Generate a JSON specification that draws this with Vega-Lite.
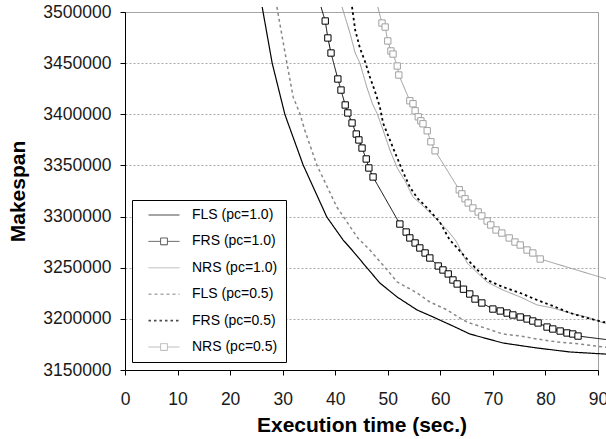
{
  "$schema": "https://vega.github.io/schema/vega-lite/v6.json",
  "autosize": {"type": "none"},
  "width": 473,
  "height": 358,
  "padding": {"left": 125, "top": 12, "right": 8, "bottom": 69},
  "background": "white",
  "datasets": {
    "runs": [
      {"series": "FLS (pc=1.0)", "t": 26.1, "m": 3504900},
      {"series": "FLS (pc=1.0)", "t": 28.0, "m": 3450100},
      {"series": "FLS (pc=1.0)", "t": 30.4, "m": 3400300},
      {"series": "FLS (pc=1.0)", "t": 30.8, "m": 3394400},
      {"series": "FLS (pc=1.0)", "t": 33.9, "m": 3350400},
      {"series": "FLS (pc=1.0)", "t": 38.4, "m": 3299600},
      {"series": "FLS (pc=1.0)", "t": 41.5, "m": 3277100},
      {"series": "FLS (pc=1.0)", "t": 43.2, "m": 3267300},
      {"series": "FLS (pc=1.0)", "t": 45.9, "m": 3250700},
      {"series": "FLS (pc=1.0)", "t": 48.5, "m": 3235000},
      {"series": "FLS (pc=1.0)", "t": 51.8, "m": 3221300},
      {"series": "FLS (pc=1.0)", "t": 55.6, "m": 3208600},
      {"series": "FLS (pc=1.0)", "t": 58.6, "m": 3201900},
      {"series": "FLS (pc=1.0)", "t": 62.4, "m": 3193000},
      {"series": "FLS (pc=1.0)", "t": 65.6, "m": 3185200},
      {"series": "FLS (pc=1.0)", "t": 71.9, "m": 3176400},
      {"series": "FLS (pc=1.0)", "t": 78.4, "m": 3171500},
      {"series": "FLS (pc=1.0)", "t": 84.7, "m": 3167600},
      {"series": "FLS (pc=1.0)", "t": 91.0, "m": 3165700},
      {"series": "FLS (pc=1.0)", "t": 93.0, "m": 3165000},

      {"series": "FRS (pc=1.0)", "t": 37.3, "m": 3504900},
      {"series": "FRS (pc=1.0)", "t": 38.1, "m": 3491200},
      {"series": "FRS (pc=1.0)", "t": 38.6, "m": 3474600},
      {"series": "FRS (pc=1.0)", "t": 39.2, "m": 3459900},
      {"series": "FRS (pc=1.0)", "t": 40.5, "m": 3434500},
      {"series": "FRS (pc=1.0)", "t": 41.1, "m": 3423700},
      {"series": "FRS (pc=1.0)", "t": 41.9, "m": 3409100},
      {"series": "FRS (pc=1.0)", "t": 42.4, "m": 3401300},
      {"series": "FRS (pc=1.0)", "t": 43.2, "m": 3391500},
      {"series": "FRS (pc=1.0)", "t": 44.0, "m": 3380700},
      {"series": "FRS (pc=1.0)", "t": 44.5, "m": 3374900},
      {"series": "FRS (pc=1.0)", "t": 45.1, "m": 3367000},
      {"series": "FRS (pc=1.0)", "t": 45.9, "m": 3356300},
      {"series": "FRS (pc=1.0)", "t": 46.4, "m": 3347500},
      {"series": "FRS (pc=1.0)", "t": 47.2, "m": 3338700},
      {"series": "FRS (pc=1.0)", "t": 52.3, "m": 3292700},
      {"series": "FRS (pc=1.0)", "t": 53.5, "m": 3284900},
      {"series": "FRS (pc=1.0)", "t": 54.2, "m": 3279100},
      {"series": "FRS (pc=1.0)", "t": 55.2, "m": 3274200},
      {"series": "FRS (pc=1.0)", "t": 56.1, "m": 3269300},
      {"series": "FRS (pc=1.0)", "t": 57.1, "m": 3264400},
      {"series": "FRS (pc=1.0)", "t": 58.0, "m": 3259500},
      {"series": "FRS (pc=1.0)", "t": 59.6, "m": 3251700},
      {"series": "FRS (pc=1.0)", "t": 60.5, "m": 3247800},
      {"series": "FRS (pc=1.0)", "t": 61.5, "m": 3243900},
      {"series": "FRS (pc=1.0)", "t": 62.4, "m": 3238000},
      {"series": "FRS (pc=1.0)", "t": 63.2, "m": 3234100},
      {"series": "FRS (pc=1.0)", "t": 64.4, "m": 3229000},
      {"series": "FRS (pc=1.0)", "t": 65.6, "m": 3224300},
      {"series": "FRS (pc=1.0)", "t": 66.6, "m": 3219400},
      {"series": "FRS (pc=1.0)", "t": 67.9, "m": 3215500},
      {"series": "FRS (pc=1.0)", "t": 70.0, "m": 3209600},
      {"series": "FRS (pc=1.0)", "t": 71.4, "m": 3207700},
      {"series": "FRS (pc=1.0)", "t": 72.7, "m": 3205700},
      {"series": "FRS (pc=1.0)", "t": 73.8, "m": 3203800},
      {"series": "FRS (pc=1.0)", "t": 75.2, "m": 3201800},
      {"series": "FRS (pc=1.0)", "t": 76.5, "m": 3199900},
      {"series": "FRS (pc=1.0)", "t": 77.6, "m": 3197900},
      {"series": "FRS (pc=1.0)", "t": 78.6, "m": 3196000},
      {"series": "FRS (pc=1.0)", "t": 80.3, "m": 3192000},
      {"series": "FRS (pc=1.0)", "t": 81.4, "m": 3190100},
      {"series": "FRS (pc=1.0)", "t": 82.8, "m": 3188100},
      {"series": "FRS (pc=1.0)", "t": 84.1, "m": 3186200},
      {"series": "FRS (pc=1.0)", "t": 85.2, "m": 3185200},
      {"series": "FRS (pc=1.0)", "t": 86.2, "m": 3183200},
      {"series": "FRS (pc=1.0)", "t": 100.0, "m": 3174400},

      {"series": "NRS (pc=1.0)", "t": 41.3, "m": 3504900},
      {"series": "NRS (pc=1.0)", "t": 42.8, "m": 3479500},
      {"series": "NRS (pc=1.0)", "t": 43.8, "m": 3459900},
      {"series": "NRS (pc=1.0)", "t": 44.7, "m": 3450100},
      {"series": "NRS (pc=1.0)", "t": 46.0, "m": 3426700},
      {"series": "NRS (pc=1.0)", "t": 47.1, "m": 3410000},
      {"series": "NRS (pc=1.0)", "t": 48.0, "m": 3400500},
      {"series": "NRS (pc=1.0)", "t": 49.1, "m": 3384600},
      {"series": "NRS (pc=1.0)", "t": 50.4, "m": 3365100},
      {"series": "NRS (pc=1.0)", "t": 51.8, "m": 3347500},
      {"series": "NRS (pc=1.0)", "t": 53.3, "m": 3334800},
      {"series": "NRS (pc=1.0)", "t": 54.8, "m": 3319100},
      {"series": "NRS (pc=1.0)", "t": 56.1, "m": 3313300},
      {"series": "NRS (pc=1.0)", "t": 57.5, "m": 3306400},
      {"series": "NRS (pc=1.0)", "t": 59.4, "m": 3296700},
      {"series": "NRS (pc=1.0)", "t": 61.3, "m": 3286900},
      {"series": "NRS (pc=1.0)", "t": 63.0, "m": 3276000},
      {"series": "NRS (pc=1.0)", "t": 65.1, "m": 3254600},
      {"series": "NRS (pc=1.0)", "t": 68.9, "m": 3236000},
      {"series": "NRS (pc=1.0)", "t": 71.9, "m": 3228200},
      {"series": "NRS (pc=1.0)", "t": 75.2, "m": 3221400},
      {"series": "NRS (pc=1.0)", "t": 78.4, "m": 3213600},
      {"series": "NRS (pc=1.0)", "t": 81.4, "m": 3210600},
      {"series": "NRS (pc=1.0)", "t": 84.7, "m": 3205700},
      {"series": "NRS (pc=1.0)", "t": 87.9, "m": 3201800},
      {"series": "NRS (pc=1.0)", "t": 91.0, "m": 3196000},
      {"series": "NRS (pc=1.0)", "t": 93.0, "m": 3194500},

      {"series": "FLS (pc=0.5)", "t": 28.9, "m": 3504900},
      {"series": "FLS (pc=0.5)", "t": 30.8, "m": 3450100},
      {"series": "FLS (pc=0.5)", "t": 32.0, "m": 3416900},
      {"series": "FLS (pc=0.5)", "t": 33.3, "m": 3400300},
      {"series": "FLS (pc=0.5)", "t": 34.2, "m": 3384600},
      {"series": "FLS (pc=0.5)", "t": 36.5, "m": 3350400},
      {"series": "FLS (pc=0.5)", "t": 40.3, "m": 3309400},
      {"series": "FLS (pc=0.5)", "t": 44.3, "m": 3279000},
      {"series": "FLS (pc=0.5)", "t": 46.6, "m": 3267300},
      {"series": "FLS (pc=0.5)", "t": 49.9, "m": 3247800},
      {"series": "FLS (pc=0.5)", "t": 51.8, "m": 3236000},
      {"series": "FLS (pc=0.5)", "t": 55.6, "m": 3225300},
      {"series": "FLS (pc=0.5)", "t": 58.0, "m": 3216500},
      {"series": "FLS (pc=0.5)", "t": 61.3, "m": 3208700},
      {"series": "FLS (pc=0.5)", "t": 64.3, "m": 3198900},
      {"series": "FLS (pc=0.5)", "t": 65.6, "m": 3196000},
      {"series": "FLS (pc=0.5)", "t": 71.9, "m": 3185200},
      {"series": "FLS (pc=0.5)", "t": 75.2, "m": 3183200},
      {"series": "FLS (pc=0.5)", "t": 78.4, "m": 3180300},
      {"series": "FLS (pc=0.5)", "t": 82.2, "m": 3177400},
      {"series": "FLS (pc=0.5)", "t": 86.6, "m": 3175400},
      {"series": "FLS (pc=0.5)", "t": 91.0, "m": 3172500},
      {"series": "FLS (pc=0.5)", "t": 93.0, "m": 3171700},

      {"series": "FRS (pc=0.5)", "t": 43.2, "m": 3504900},
      {"series": "FRS (pc=0.5)", "t": 43.8, "m": 3482400},
      {"series": "FRS (pc=0.5)", "t": 44.7, "m": 3464800},
      {"series": "FRS (pc=0.5)", "t": 45.7, "m": 3451100},
      {"series": "FRS (pc=0.5)", "t": 46.6, "m": 3436500},
      {"series": "FRS (pc=0.5)", "t": 47.6, "m": 3421800},
      {"series": "FRS (pc=0.5)", "t": 48.5, "m": 3407100},
      {"series": "FRS (pc=0.5)", "t": 49.1, "m": 3391500},
      {"series": "FRS (pc=0.5)", "t": 50.4, "m": 3374900},
      {"series": "FRS (pc=0.5)", "t": 51.4, "m": 3362200},
      {"series": "FRS (pc=0.5)", "t": 52.9, "m": 3343600},
      {"series": "FRS (pc=0.5)", "t": 54.2, "m": 3328900},
      {"series": "FRS (pc=0.5)", "t": 55.6, "m": 3318200},
      {"series": "FRS (pc=0.5)", "t": 57.5, "m": 3308400},
      {"series": "FRS (pc=0.5)", "t": 59.9, "m": 3294700},
      {"series": "FRS (pc=0.5)", "t": 61.8, "m": 3277100},
      {"series": "FRS (pc=0.5)", "t": 63.2, "m": 3269300},
      {"series": "FRS (pc=0.5)", "t": 65.6, "m": 3255600},
      {"series": "FRS (pc=0.5)", "t": 68.9, "m": 3238000},
      {"series": "FRS (pc=0.5)", "t": 71.9, "m": 3231200},
      {"series": "FRS (pc=0.5)", "t": 75.2, "m": 3225300},
      {"series": "FRS (pc=0.5)", "t": 78.4, "m": 3218400},
      {"series": "FRS (pc=0.5)", "t": 81.4, "m": 3212600},
      {"series": "FRS (pc=0.5)", "t": 84.7, "m": 3205700},
      {"series": "FRS (pc=0.5)", "t": 87.9, "m": 3200900},
      {"series": "FRS (pc=0.5)", "t": 91.0, "m": 3196900},
      {"series": "FRS (pc=0.5)", "t": 93.0, "m": 3196000},

      {"series": "NRS (pc=0.5)", "t": 48.1, "m": 3504900},
      {"series": "NRS (pc=0.5)", "t": 48.9, "m": 3489200},
      {"series": "NRS (pc=0.5)", "t": 49.5, "m": 3485300},
      {"series": "NRS (pc=0.5)", "t": 50.0, "m": 3471700},
      {"series": "NRS (pc=0.5)", "t": 50.6, "m": 3461900},
      {"series": "NRS (pc=0.5)", "t": 51.0, "m": 3458900},
      {"series": "NRS (pc=0.5)", "t": 51.8, "m": 3447200},
      {"series": "NRS (pc=0.5)", "t": 52.1, "m": 3438400},
      {"series": "NRS (pc=0.5)", "t": 54.2, "m": 3413200},
      {"series": "NRS (pc=0.5)", "t": 54.8, "m": 3410300},
      {"series": "NRS (pc=0.5)", "t": 55.2, "m": 3403400},
      {"series": "NRS (pc=0.5)", "t": 55.8, "m": 3397500},
      {"series": "NRS (pc=0.5)", "t": 56.3, "m": 3393600},
      {"series": "NRS (pc=0.5)", "t": 56.7, "m": 3390700},
      {"series": "NRS (pc=0.5)", "t": 57.5, "m": 3383900},
      {"series": "NRS (pc=0.5)", "t": 58.2, "m": 3373100},
      {"series": "NRS (pc=0.5)", "t": 59.0, "m": 3364300},
      {"series": "NRS (pc=0.5)", "t": 63.6, "m": 3326200},
      {"series": "NRS (pc=0.5)", "t": 64.1, "m": 3322200},
      {"series": "NRS (pc=0.5)", "t": 64.7, "m": 3317400},
      {"series": "NRS (pc=0.5)", "t": 65.3, "m": 3313300},
      {"series": "NRS (pc=0.5)", "t": 66.2, "m": 3308400},
      {"series": "NRS (pc=0.5)", "t": 67.2, "m": 3304500},
      {"series": "NRS (pc=0.5)", "t": 67.9, "m": 3300600},
      {"series": "NRS (pc=0.5)", "t": 68.9, "m": 3295700},
      {"series": "NRS (pc=0.5)", "t": 69.6, "m": 3291800},
      {"series": "NRS (pc=0.5)", "t": 70.6, "m": 3286900},
      {"series": "NRS (pc=0.5)", "t": 71.7, "m": 3283900},
      {"series": "NRS (pc=0.5)", "t": 73.1, "m": 3279100},
      {"series": "NRS (pc=0.5)", "t": 74.2, "m": 3275100},
      {"series": "NRS (pc=0.5)", "t": 75.2, "m": 3272200},
      {"series": "NRS (pc=0.5)", "t": 76.5, "m": 3267300},
      {"series": "NRS (pc=0.5)", "t": 77.6, "m": 3264400},
      {"series": "NRS (pc=0.5)", "t": 79.0, "m": 3258500},
      {"series": "NRS (pc=0.5)", "t": 100.0, "m": 3226000}
    ]
  },
  "data": {"name": "runs"},
  "encoding": {
    "x": {
      "field": "t",
      "type": "quantitative",
      "scale": {"domain": [0, 90], "nice": false, "zero": false},
      "axis": {
        "values": [0, 10, 20, 30, 40, 50, 60, 70, 80, 90],
        "grid": false,
        "labelFlush": false,
        "labelPadding": 15,
        "title": "Execution time (sec.)",
        "titlePadding": 7
      }
    },
    "y": {
      "field": "m",
      "type": "quantitative",
      "scale": {"domain": [3150000, 3500000], "nice": false, "zero": false},
      "axis": {
        "values": [3150000, 3200000, 3250000, 3300000, 3350000, 3400000, 3450000, 3500000],
        "format": "d",
        "grid": true,
        "gridColor": "#a8a8a8",
        "gridDash": [2, 2],
        "labelFlush": false,
        "labelPadding": 9,
        "title": "Makespan",
        "titlePadding": 14
      }
    },
    "color": {
      "field": "series",
      "type": "nominal",
      "scale": {
        "domain": ["FLS (pc=1.0)", "FRS (pc=1.0)", "NRS (pc=1.0)", "FLS (pc=0.5)", "FRS (pc=0.5)", "NRS (pc=0.5)"],
        "range": ["#000000", "#000000", "#999999", "#888888", "#000000", "#999999"]
      },
      "legend": {"title": null}
    },
    "strokeDash": {
      "field": "series",
      "type": "nominal",
      "scale": {
        "domain": ["FLS (pc=1.0)", "FRS (pc=1.0)", "NRS (pc=1.0)", "FLS (pc=0.5)", "FRS (pc=0.5)", "NRS (pc=0.5)"],
        "range": [[1, 0], [1, 0], [1, 0], [3, 3], [2.5, 3], [1, 0]]
      },
      "legend": {"title": null}
    },
    "strokeWidth": {
      "field": "series",
      "type": "nominal",
      "scale": {
        "type": "ordinal",
        "domain": ["FLS (pc=1.0)", "FRS (pc=1.0)", "NRS (pc=1.0)", "FLS (pc=0.5)", "FRS (pc=0.5)", "NRS (pc=0.5)"],
        "range": [1.2, 1, 1, 1.5, 1.8, 1]
      },
      "legend": {"title": null}
    }
  },
  "layer": [
    {
      "mark": {"type": "line", "clip": false}
    },
    {
      "transform": [
        {"filter": "(datum.series === 'FRS (pc=1.0)' || datum.series === 'NRS (pc=0.5)') && datum.m <= 3500000 && datum.t <= 90"}
      ],
      "mark": {"type": "point", "shape": "square", "size": 40, "filled": true, "fill": "white", "strokeWidth": 1, "opacity": 1, "clip": false},
      "encoding": {
        "color": null,
        "strokeDash": null,
        "strokeWidth": null,
        "stroke": {
          "field": "series",
          "type": "nominal",
          "scale": {"domain": ["FRS (pc=1.0)", "NRS (pc=0.5)"], "range": ["#000000", "#a0a0a0"]},
          "legend": null
        }
      }
    },
    {
      "transform": [{"filter": "datum.t < 0"}],
      "mark": {"type": "point", "filled": false, "size": 100},
      "encoding": {
        "shape": {
          "field": "series",
          "type": "nominal",
          "scale": {
            "domain": ["FLS (pc=1.0)", "FRS (pc=1.0)", "NRS (pc=1.0)", "FLS (pc=0.5)", "FRS (pc=0.5)", "NRS (pc=0.5)"],
            "range": [
              "M-3.1,0H3.1",
              "M-3.1,0H-0.68M0.68,0H3.1M-0.68,-0.68H0.68V0.68H-0.68Z",
              "M-3.1,0H3.1",
              "M-3.1,0H3.1",
              "M-3.1,0H3.1",
              "M-3.1,0H-0.68M0.68,0H3.1M-0.68,-0.68H0.68V0.68H-0.68Z"
            ]
          },
          "legend": {"title": null}
        }
      }
    }
  ],
  "config": {
    "font": "Liberation Sans",
    "view": {"stroke": "#a0a0a0", "strokeWidth": 1},
    "axis": {
      "domainColor": "#000000",
      "domainWidth": 1,
      "tickColor": "#000000",
      "tickSize": 5,
      "labelFont": "Liberation Sans",
      "labelFontSize": 17.5,
      "labelColor": "#1a1a1a",
      "titleFont": "Liberation Sans",
      "titleFontSize": 21,
      "titleFontWeight": "bold",
      "titleColor": "#000000"
    },
    "legend": {
      "orient": "none",
      "legendX": 7,
      "legendY": 188,
      "padding": 8,
      "fillColor": "white",
      "strokeColor": "#000000",
      "symbolSize": 100,
      "symbolOffset": 17,
      "labelOffset": 21,
      "rowPadding": 12.4,
      "labelFont": "Liberation Sans",
      "labelFontSize": 14,
      "labelColor": "#000000"
    }
  }
}
